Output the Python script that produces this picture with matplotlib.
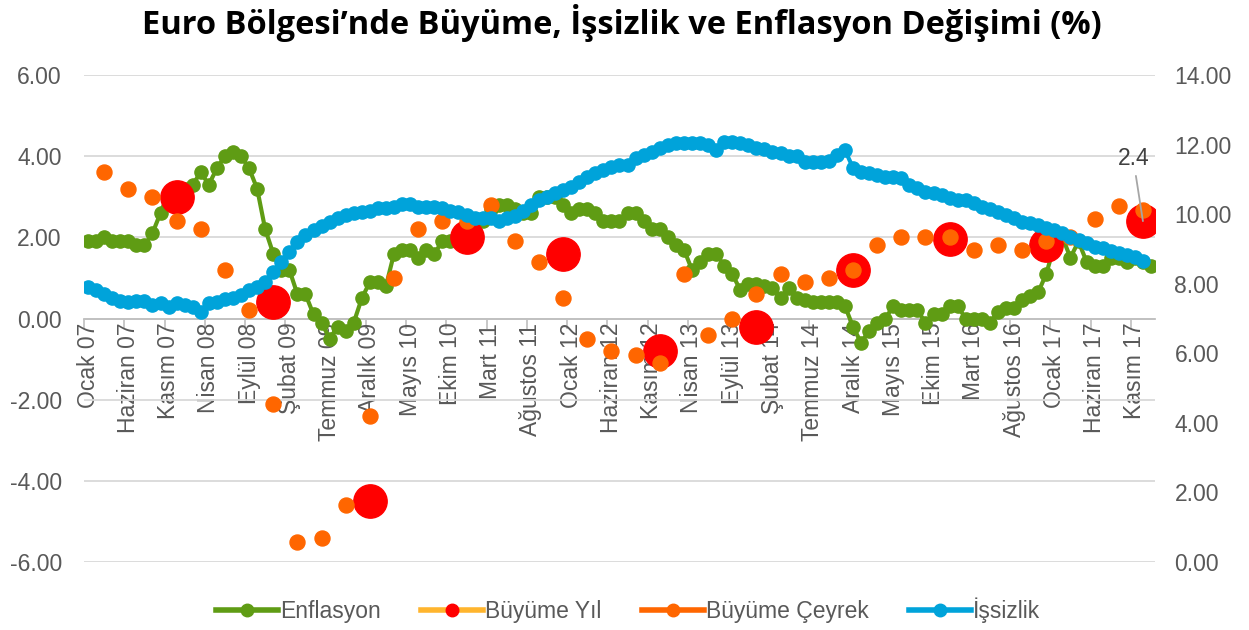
import matplotlib
matplotlib.use("Agg")
import matplotlib.pyplot as plt
from matplotlib.lines import Line2D
import numpy as np

# ---------------- data ----------------
month_names = ["Ocak", "Şubat", "Mart", "Nisan", "Mayıs", "Haziran", "Temmuz",
               "Ağustos", "Eylül", "Ekim", "Kasım", "Aralık"]
years = ["07", "08", "09", "10", "11", "12", "13", "14", "15", "16", "17", "18"]
categories = [f"{m} {y}" for y in years for m in month_names][:133]

enflasyon = [
    1.9, 1.9, 2.0, 1.9, 1.9, 1.9, 1.8, 1.8, 2.1, 2.6, 3.1, 3.1,
    3.2, 3.3, 3.6, 3.3, 3.7, 4.0, 4.1, 4.0, 3.7, 3.2, 2.2, 1.6,
    1.2, 1.2, 0.6, 0.6, 0.1, -0.1, -0.5, -0.2, -0.3, -0.1, 0.5, 0.9,
    0.9, 0.8, 1.6, 1.7, 1.7, 1.5, 1.7, 1.6, 1.9, 1.9, 1.9, 2.2,
    2.3, 2.4, 2.7, 2.8, 2.8, 2.7, 2.6, 2.6, 3.0, 3.0, 3.0, 2.8,
    2.6, 2.7, 2.7, 2.6, 2.4, 2.4, 2.4, 2.6, 2.6, 2.4, 2.2, 2.2,
    2.0, 1.8, 1.7, 1.2, 1.4, 1.6, 1.6, 1.3, 1.1, 0.7, 0.85, 0.85,
    0.8, 0.75, 0.5, 0.75, 0.5, 0.45, 0.4, 0.4, 0.4, 0.4, 0.3, -0.2,
    -0.6, -0.3, -0.1, 0.0, 0.3, 0.2, 0.2, 0.2, -0.1, 0.1, 0.1, 0.3,
    0.3, 0.0, 0.0, 0.0, -0.1, 0.15, 0.25, 0.25, 0.45, 0.55, 0.65, 1.1,
    1.8, 2.0, 1.5, 1.9, 1.4, 1.3, 1.3, 1.5, 1.5, 1.4, 1.5, 1.4,
    1.3,
]

issizlik = [
    7.9, 7.82, 7.7, 7.6, 7.5, 7.47, 7.5, 7.5, 7.4, 7.44, 7.33, 7.44,
    7.39, 7.33, 7.19, 7.44, 7.47, 7.56, 7.59, 7.67, 7.82, 7.9, 8.05, 8.34,
    8.62, 8.9, 9.2, 9.4, 9.54, 9.66, 9.77, 9.88, 9.97, 10.03, 10.06, 10.1,
    10.17, 10.17, 10.2, 10.29, 10.29, 10.2, 10.2, 10.2, 10.17, 10.1, 10.06, 9.97,
    9.88, 9.9, 9.88, 9.8, 9.88, 9.95, 10.1, 10.26, 10.4, 10.5, 10.6, 10.7,
    10.78, 10.92, 11.07, 11.18, 11.27, 11.35, 11.41, 11.41, 11.6, 11.7, 11.78, 11.9,
    11.98, 12.04, 12.04, 12.04, 12.04, 12.0, 11.85, 12.07, 12.07, 12.04, 11.98, 11.9,
    11.87, 11.78, 11.75, 11.67, 11.67, 11.5, 11.5, 11.5, 11.53, 11.7, 11.84, 11.33,
    11.21, 11.18, 11.12, 11.07, 11.07, 11.03, 10.84, 10.75, 10.63, 10.6, 10.55, 10.46,
    10.4, 10.4, 10.32, 10.2, 10.15, 10.06, 9.97, 9.88, 9.78, 9.74, 9.69, 9.6,
    9.54, 9.45, 9.34, 9.25, 9.17, 9.05, 9.03, 8.94, 8.88, 8.82, 8.77, 8.66,
]

# quarterly growth (placed on the last month of each quarter: Mart 07 ... Aralık 17)
buyume_ceyrek = [
    3.6, 3.2, 3.0, 2.4,
    2.2, 1.2, 0.2, -2.1,
    -5.5, -5.4, -4.6, -2.4,
    1.0, 2.2, 2.4, 2.4,
    2.8, 1.9, 1.4, 0.5,
    -0.5, -0.8, -0.9, -1.1,
    1.1, -0.4, 0.0, 0.6,
    1.1, 0.9, 1.0, 1.2,
    1.8, 2.0, 2.0, 2.0,
    1.7, 1.8, 1.7, 1.9,
    2.0, 2.45, 2.77, 2.67,
]
# annual growth (placed on Aralık of each year 2007 ... 2017)
buyume_yil = [3.0, 0.4, -4.5, 2.0, 1.6, -0.8, -0.2, 1.2, 1.95, 1.8, 2.4]

tick_labels = categories[::5][:27]

# ---------------- styling ----------------
GREEN = "#5F9C14"
BLUE = "#00A3DA"
ORANGE = "#FF6600"
RED = "#FF0000"
YELLOW = "#FFB52E"
GRAY_TXT = "#595959"
GRID = "#D9D9D9"

plt.rcParams["font.family"] = ["Liberation Sans", "DejaVu Sans"]

fig = plt.figure(figsize=(12.49, 6.30), dpi=100)
ax = fig.add_axes([84 / 1249, 1 - 562 / 630, (1155 - 84) / 1249, (562 - 75) / 630])
ax2 = ax.twinx()

n = len(categories)
x_all = np.arange(n)
x_q = x_all[2::3][:len(buyume_ceyrek)]
x_y = x_all[11::12][:len(buyume_yil)]

ax.plot(x_all[:len(enflasyon)], enflasyon, color=GREEN, lw=3.0, marker="o",
        ms=9.5, mfc=GREEN, mec=GREEN, zorder=3)
ax.plot(x_y, buyume_yil, ls="none", marker="o", ms=24, mfc=RED, mec=RED, zorder=4)
ax.plot(x_q, buyume_ceyrek, ls="none", marker="o", ms=10.8, mfc=ORANGE, mec=ORANGE, zorder=5)
ax2.plot(x_all[:len(issizlik)], issizlik, color=BLUE, lw=3.0, marker="o",
         ms=9.5, mfc=BLUE, mec=BLUE, zorder=3)

# label for last annual value
ax.annotate(f"{buyume_yil[-1]:.1f}", xy=(x_y[-1], buyume_yil[-1]),
            xytext=(x_y[-1] - 1.2, buyume_yil[-1] + 1.25),
            ha="center", va="bottom", fontsize=16.5, color="#404040",
            arrowprops=dict(arrowstyle="-", color="#A6A6A6", lw=1.3,
                            shrinkA=2, shrinkB=0), zorder=6)

# axes limits and ticks
ax.set_xlim(-0.5, n - 0.5)
ax.set_ylim(-6, 6)
ax2.set_ylim(0, 14)
ax.set_yticks(np.arange(-6, 6.01, 2))
ax.set_yticklabels([f"{v:.2f}" for v in np.arange(-6, 6.01, 2)])
ax2.set_yticks(np.arange(0, 14.01, 2))
ax2.set_yticklabels([f"{v:.2f}" for v in np.arange(0, 14.01, 2)])

ax.tick_params(axis="x", which="major", length=7, width=1.2, color="#BFBFBF",
               direction="out", labelbottom=False)
ax.tick_params(axis="x", which="minor", length=0, pad=3, labelsize=16.5,
               labelcolor=GRAY_TXT, labelrotation=90)
ax.set_xticks(np.arange(-0.5, n - 0.5, 5))
ax.set_xticks(np.arange(0, n, 5)[:len(tick_labels)], minor=True)
ax.set_xticklabels(tick_labels, minor=True)
for lab in ax.get_xticklabels(minor=True):
    lab.set_rotation(90)
    lab.set_ha("center")
    lab.set_va("top")

ax.tick_params(axis="y", length=0, labelsize=16.5, labelcolor=GRAY_TXT, pad=16)
ax2.tick_params(axis="y", length=0, labelsize=16.5, labelcolor=GRAY_TXT, pad=14)

ax.grid(axis="y", color=GRID, lw=1.3)
ax.set_axisbelow(True)
for s in ["top", "left", "right"]:
    ax.spines[s].set_visible(False)
for s in ax2.spines.values():
    s.set_visible(False)
ax.spines["bottom"].set_position(("data", 0))
ax.spines["bottom"].set_color("#BFBFBF")
ax.spines["bottom"].set_linewidth(1.3)
ax.spines["bottom"].set_zorder(1)

# title
fig.text(0.498, 0.963, "Euro Bölgesi’nde Büyüme, İşsizlik ve Enflasyon Değişimi (%)",
         ha="center", va="center", fontsize=23.5, fontweight="bold",
         family=["Open Sans", "DejaVu Sans"], color="black")

# legend
handles = [
    Line2D([], [], color=GREEN, lw=4, marker="o", ms=9, mfc=GREEN, mec=GREEN),
    Line2D([], [], color=YELLOW, lw=4, marker="o", ms=9, mfc=RED, mec=RED),
    Line2D([], [], color=ORANGE, lw=4, marker="o", ms=9, mfc=ORANGE, mec=ORANGE),
    Line2D([], [], color=BLUE, lw=4, marker="o", ms=9, mfc=BLUE, mec=BLUE),
]
labels = ["Enflasyon", "Büyüme Yıl", "Büyüme Çeyrek", "İşsizlik"]
leg = fig.legend(handles, labels, loc="center", bbox_to_anchor=(0.503, 0.031),
                 ncol=4, frameon=False, fontsize=16.5, handlelength=2.7,
                 handletextpad=0.1, columnspacing=1.75)
for t in leg.get_texts():
    t.set_color(GRAY_TXT)

fig.savefig("out.png", dpi=100)
